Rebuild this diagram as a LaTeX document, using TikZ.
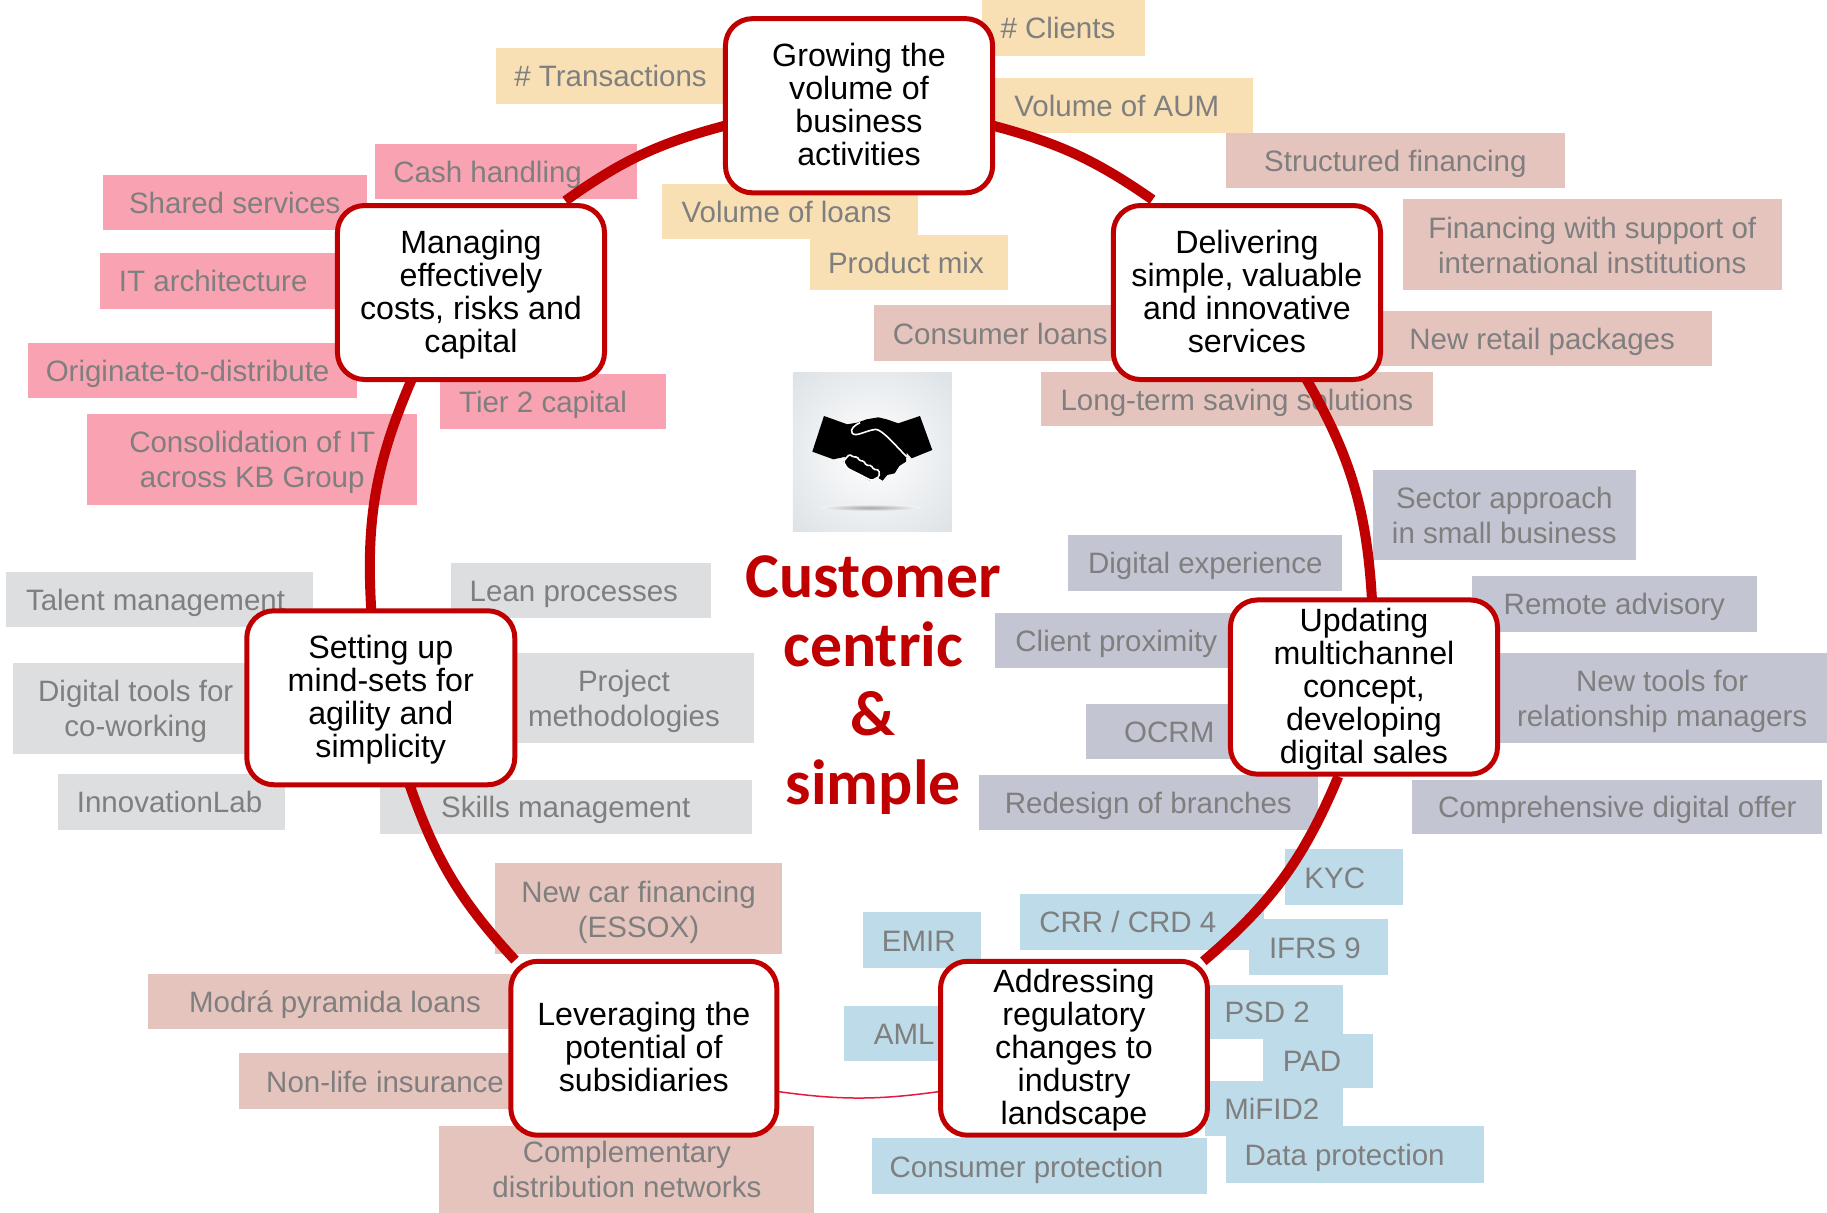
\documentclass[tikz,border=0pt]{standalone}
\usepackage{fontspec}
\setmainfont{Liberation Sans}
\newfontfamily\titlefont{Carlito}
\usetikzlibrary{calc,shapes.geometric}
\definecolor{crim}{HTML}{C00000}
\definecolor{thinred}{HTML}{E8193F}
\definecolor{tgray}{HTML}{7F7F7F}
\definecolor{cyel}{HTML}{F8E0B4}
\definecolor{cpink}{HTML}{F9A3B2}
\definecolor{crosy}{HTML}{E6C4BE}
\definecolor{cgray}{HTML}{DDDEE0}
\definecolor{cslate}{HTML}{C3C5D2}
\definecolor{cblue}{HTML}{BDDBE9}
\definecolor{iconedge}{HTML}{DDE2E6}
\pgfdeclarelayer{lab}
\pgfdeclarelayer{arcs}
\pgfsetlayers{lab,arcs,main}
\tikzset{
  labelbox/.style={inner sep=0pt,outer sep=0pt,align=center,text=tgray,font=\fontsize{29.5}{35}\selectfont},
  mainbox/.style={draw=crim,line width=5pt,fill=white,rounded corners=27pt,inner sep=0pt,outer sep=0pt,
    align=center,text=black,font=\fontsize{32.2}{33}\selectfont},
  ringarc/.style={draw=crim,line width=10pt},
  thinarc/.style={draw=thinred,line width=1.5pt},
  titletext/.style={inner sep=0pt,align=center,text=crim,font=\titlefont\bfseries\fontsize{63.8}{69}\selectfont}
}
% [text offset], name, x0,y0,x1,y1 (in reduced picture px), colour, text
\newcommand\lab[8][0]{%
  \pgfmathsetmacro\boxw{(#5-#3)*1.1652}\pgfmathsetmacro\boxh{(#6-#4)*1.1652}\pgfmathsetmacro\tdx{2.3304*#1}%
  \node[labelbox,fill=#7,minimum width=\boxw pt,minimum height=\boxh pt] (#2) at ({(#3+#5)/2},{(#4+#6)/2}) {\rule{0pt}{28pt}\hspace*{\tdx pt}#8\vphantom{g}};}
\newcommand\hub[6]{%
  \pgfmathsetmacro\boxw{(#4-#2)*1.1652}\pgfmathsetmacro\boxh{(#5-#3)*1.1652}%
  \node[mainbox,minimum width=\boxw pt,minimum height=\boxh pt] (#1) at ({(#2+#4)/2},{(#3+#5)/2}) {\rule{0pt}{28pt}#6\vphantom{g}};}
\begin{document}
\begin{tikzpicture}[x=1.1652pt,y=-1.1652pt]
\useasboundingbox (0,0) rectangle (1568,1041);
\begin{pgfonlayer}{lab}
\fill[white] (0,0) rectangle (1568,1041);
\lab[-5]{clients}{843}{0}{983}{48}{cyel}{\# Clients}
\lab{aum}{842}{67}{1075}{114}{cyel}{Volume of AUM}
\lab{trans}{426}{41}{622}{89}{cyel}{\# Transactions}
\lab[-3]{vloans}{568}{158}{788}{205}{cyel}{Volume of loans}
\lab[-2.5]{mix}{695}{202}{865}{249}{cyel}{Product mix}
\lab[-16]{cash}{322}{124}{547}{171}{cpink}{Cash handling}
\lab{shared}{88}{150}{315}{197}{cpink}{Shared services}
\lab[-6]{itarch}{86}{217}{292}{265}{cpink}{IT architecture}
\lab[-4]{orig}{24}{294}{306}{342}{cpink}{Originate-to-distribute}
\lab{consol}{75}{355}{358}{433}{cpink}{Consolidation of IT\\across KB Group}
\lab[-9]{tier}{378}{321}{572}{368}{cpink}{Tier 2 capital}
\lab{struct}{1052}{114}{1343}{161}{crosy}{Structured financing}
\lab{finintl}{1204}{171}{1529}{249}{crosy}{Financing with support of\\international institutions}
\lab{retail}{1178}{267}{1469}{314}{crosy}{New retail packages}
\lab{cons}{750}{262}{967}{310}{crosy}{Consumer loans}
\lab{lts}{893}{319}{1230}{366}{crosy}{Long-term saving solutions}
\lab{sector}{1178}{403}{1404}{481}{cslate}{Sector approach\\in small business}
\lab{digexp}{917}{459}{1152}{507}{cslate}{Digital experience}
\lab{remote}{1263}{494}{1508}{542}{cslate}{Remote advisory}
\lab[1]{client}{854}{526}{1060}{573}{cslate}{Client proximity}
\lab{newtools}{1285}{560}{1568}{638}{cslate}{New tools for\\relationship managers}
\lab{ocrm}{932}{604}{1075}{651}{cslate}{OCRM}
\lab{redesign}{840}{665}{1131}{712}{cslate}{Redesign of branches}
\lab{compre}{1212}{669}{1564}{716}{cslate}{Comprehensive digital offer}
\lab[-8]{kyc}{1103}{729}{1204}{777}{cblue}{KYC}
\lab[-12]{crr}{875}{767}{1085}{815}{cblue}{CRR / CRD 4}
\lab[-3]{emir}{741}{783}{842}{831}{cblue}{EMIR}
\lab[-3]{ifrs}{1072}{789}{1191}{837}{cblue}{IFRS 9}
\lab[-6]{psd}{1034}{845}{1153}{892}{cblue}{PSD 2}
\lab[-5]{pad}{1084}{887}{1178}{934}{cblue}{PAD}
\lab{aml}{724}{863}{828}{911}{cblue}{AML}
\lab[-2]{mifid}{1034}{928}{1153}{975}{cblue}{MiFID2}
\lab[-9]{datap}{1052}{966}{1274}{1015}{cblue}{Data protection}
\lab[-11]{consp}{748}{977}{1036}{1025}{cblue}{Consumer protection}
\lab{car}{425}{741}{671}{819}{crosy}{New car financing\\(ESSOX)}
\lab{modra}{127}{836}{448}{883}{crosy}{Modrá pyramida loans}
\lab{nonlife}{205}{904}{456}{952}{crosy}{Non-life insurance}
\lab{compl}{377}{966}{699}{1041}{crosy}{Complementary\\distribution networks}
\lab[-3.5]{talent}{5}{491}{269}{538}{cgray}{Talent management}
\lab[-6]{lean}{387}{483}{610}{530}{cgray}{Lean processes}
\lab{digtools}{11}{569}{222}{647}{cgray}{Digital tools for\\co-working}
\lab{project}{424}{560}{647}{638}{cgray}{Project\\methodologies}
\lab[-2]{innov}{50}{664}{245}{712}{cgray}{InnovationLab}
\lab{skills}{326}{669}{645}{716}{cgray}{Skills management}
\end{pgfonlayer}

% hubs
\hub{grow}{622.6}{16}{851.9}{165.5}{Growing the\\volume of\\business\\activities}
\hub{manage}{289.6}{176.4}{518.8}{325.7}{Managing\\effectively\\costs, risks and\\capital}
\hub{deliver}{955.5}{176.4}{1184.8}{325.7}{Delivering\\simple, valuable\\and innovative\\services}
\hub{setup}{211.8}{524.2}{441.8}{673.5}{Setting up\\mind-sets for\\agility and\\simplicity}
\hub{update}{1056}{514.9}{1285.2}{664.4}{Updating\\multichannel\\concept,\\developing\\digital sales}
\hub{lever}{438.4}{825}{666.7}{974.3}{Leveraging the\\potential of\\subsidiaries}
\hub{address}{807.2}{825}{1036.3}{974.3}{Addressing\\regulatory\\changes to\\industry\\landscape}

\begin{pgfonlayer}{arcs}
\draw[ringarc] ($(grow.east)+(0,17)$) to[bend left=10] ($(deliver.north)+(-81,-5)$);
\draw[ringarc] ($(deliver.south)+(50,-2)$) to[bend left=13.4] ($(update.north)+(7,2)$);
\draw[ringarc] ($(update.south)+(-22,2)$) to[bend left=13.4] ($(address.north)+(111,0)$);
\draw[thinarc] ($(address.west)+(0,37)$) to[bend left=8] ($(lever.east)+(0,37)$);
\draw[ringarc] ($(lever.north)+(-110.5,-1)$) to[bend left=11.9] ($(setup.south)+(24,-2)$);
\draw[ringarc] ($(setup.north)+(-8,2)$) to[bend left=13.6] ($(manage.south)+(-50,-2)$);
\draw[ringarc] ($(manage.north)+(81,-4)$) to[bend left=10.4] ($(grow.west)+(0,17)$);
\end{pgfonlayer}

\node[titletext] (title) at (749.5,588) {Customer\\centric\\\&\\simple};

% handshake picture
\begin{scope}[x=0.3333pt,y=-0.3333pt,shift={(770pt,-360pt)}]
\begin{scope}
\clip (69,39) rectangle (546,516);
\shade[inner color=white,middle color=white,outer color=iconedge] (307.5,277.5) circle (337);
\end{scope}
\shade[inner color=black!35,outer color=iconedge!40!white] (300,443) ellipse (150 and 10);
\fill[black] (162,168) -- (232,193) -- (262,188) -- (290,178) -- (325,172) -- (350,178) -- (385,190)
  -- (450,168) -- (487,270) -- (425,295) -- (410,278) -- (408,305) -- (388,318) -- (374,340) -- (352,345)
  -- (338,362) -- (322,352) -- (300,362) -- (232,325) -- (220,305) -- (228,290) -- (190,298) -- (127,275) -- cycle;
\draw[white,line width=1.6pt,line join=round]
  (270,188) .. controls (255,195) and (238,208) .. (247,220) .. controls (258,232) and (285,212) .. (318,208)
  .. controls (340,212) and (375,255) .. (410,290);
\draw[white,line width=1.6pt,line join=round,fill=black,rounded corners=1.5pt]
  (238,283) -- (252,292) -- (262,290) -- (268,302) -- (282,303) -- (288,316) -- (304,316) -- (310,328) -- (327,330) -- (328,350) -- (305,362) -- (232,325) -- (220,305) -- cycle;
\end{scope}
\end{tikzpicture}
\end{document}
